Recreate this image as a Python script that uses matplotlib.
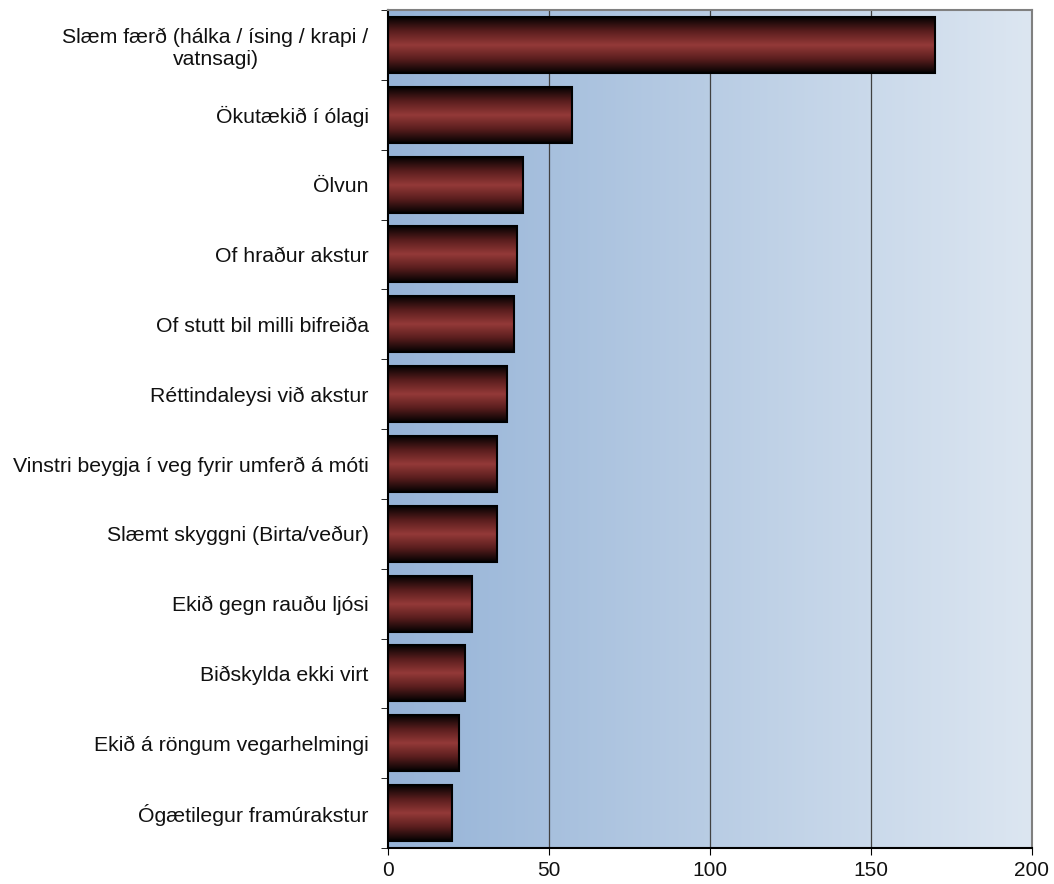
import numpy as np
import matplotlib.pyplot as plt
from matplotlib.colors import LinearSegmentedColormap
from matplotlib.patches import Rectangle

categories = ['Slæm færð (hálka / ísing / krapi /\nvatnsagi)', 'Ökutækið í ólagi', 'Ölvun',
              'Of hraður akstur', 'Of stutt bil milli bifreiða', 'Réttindaleysi við akstur',
              'Vinstri beygja í veg fyrir umferð á móti', 'Slæmt skyggni (Birta/veður)',
              'Ekið gegn rauðu ljósi', 'Biðskylda ekki virt', 'Ekið á röngum vegarhelmingi',
              'Ógætilegur framúrakstur']
values = [170, 57, 42, 40, 39, 37, 34, 34, 26, 24, 22, 20]
xticks = [0, 50, 100, 150, 200]

plt.rcParams['font.family'] = ['Liberation Sans', 'DejaVu Sans']

fig = plt.figure(figsize=(10.54, 8.84), dpi=100)
ax = fig.add_axes([388 / 1054, 36 / 884, 644 / 1054, 838 / 884])

# background gradient (left darker blue -> right pale)
bg = LinearSegmentedColormap.from_list('bg', ['#95b3d7', '#dce6f1'])
ax.imshow(np.linspace(0, 1, 256).reshape(1, -1), cmap=bg, aspect='auto',
          extent=(0, 1, 0, 1), transform=ax.transAxes, zorder=0)

bar_cmap = LinearSegmentedColormap.from_list('bar', ['#050202', '#5a1e1e', '#943a38', '#5a1e1e', '#050202'])
grad = np.linspace(0, 1, 100).reshape(-1, 1)
n = len(categories)
h = 0.8
for i, v in enumerate(values):
    y = n - 1 - i
    ax.imshow(grad, cmap=bar_cmap, aspect='auto', extent=(0, v, y - h / 2, y + h / 2), zorder=3)
    ax.add_patch(Rectangle((0, y - h / 2), v, h, fill=False, edgecolor='black', lw=1.5, zorder=4))

ax.set_xlim(0, 200)
ax.set_ylim(-0.5, n - 0.5)
ax.set_xticks(xticks)
for xv in xticks[1:-1]:
    ax.axvline(xv, color='#404040', lw=0.9, zorder=1)

ax.set_yticks(range(n))
ax.set_yticklabels(categories[::-1], fontsize=15.3, multialignment='center', color='#111111')
ax.set_yticks(np.arange(-0.5, n, 1), minor=True)
ax.tick_params(axis='y', which='major', length=0, pad=14)
ax.tick_params(axis='y', which='minor', length=5, direction='out')
ax.tick_params(axis='x', length=5, labelsize=15, pad=4, labelcolor='#111111')

ax.spines['left'].set_color('black')
ax.spines['bottom'].set_color('black')
ax.spines['top'].set_color('#808080')
ax.spines['right'].set_color('#808080')
for s in ax.spines.values():
    s.set_linewidth(1.5)
    s.set_zorder(5)

fig.savefig('out.png', dpi=100)
